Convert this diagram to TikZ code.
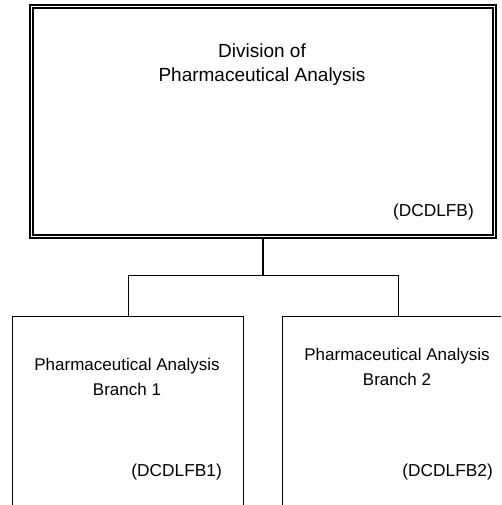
\documentclass[tikz,border=0pt]{standalone}
\usepackage{fontspec}
\setmainfont{Liberation Sans}
\usepackage{tikz}
\usetikzlibrary{positioning, calc}
\tikzset{
  divbox/.style={rectangle, draw, double, line width=1.3pt, double distance=1.8pt, minimum width=463pt, minimum height=230pt, inner sep=0pt},
  branchbox/.style={rectangle, draw, line width=1.3pt, minimum width=231pt, minimum height=230pt, inner sep=0pt, anchor=north west},
  titletext/.style={align=center, inner sep=0pt, font=\fontsize{19}{24}\selectfont},
  subtext/.style={align=center, inner sep=0pt, font=\fontsize{17}{24.5}\selectfont},
  codetext/.style={inner sep=0pt, anchor=base east, font=\fontsize{17.3}{20}\selectfont},
  conn/.style={line width=1.3pt},
}
\begin{document}
\begin{tikzpicture}[x=1pt, y=-1pt]
  \clip (0,0) rectangle (501,505);
  % Division
  \node[divbox] (div) at (263,121.5) {};
  \node[titletext, anchor=base] (divtitle) at (262,82) {Division of\\Pharmaceutical Analysis};
  \node[codetext] (divcode) at (474,216) {(DCDLFB)};

  % Branches
  \node[branchbox] (b1) at (12,315.5) {};
  \node[branchbox] (b2) at (282,315.5) {};
  \node[subtext, anchor=base] (b1title) at (127,395) {Pharmaceutical Analysis\\Branch 1};
  \node[subtext, anchor=base] (b2title) at (397,385) {Pharmaceutical Analysis\\Branch 2};
  \node[codetext] (b1code) at (222,476) {(DCDLFB1)};
  \node[codetext] (b2code) at (493,476) {(DCDLFB2)};

  % Connectors
  \draw[conn] (div.south) -- ++(0,38) coordinate (fork);
  \draw[conn] (b1.north) |- (fork) -| (b2.north);
\end{tikzpicture}
\end{document}
